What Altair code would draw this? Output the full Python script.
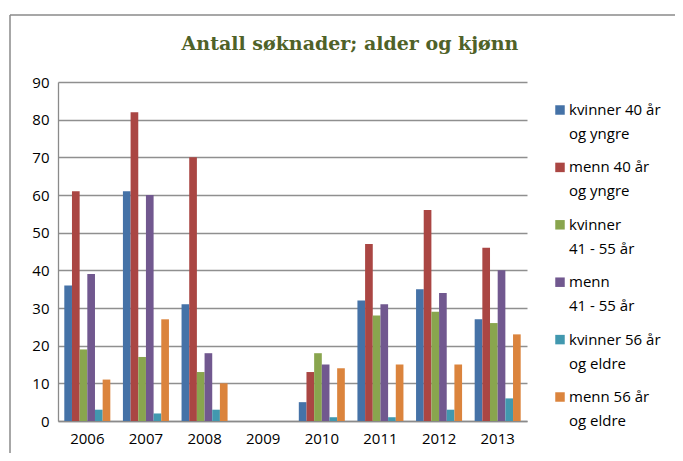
import altair as alt
import pandas as pd

years = ["2006", "2007", "2008", "2009", "2010", "2011", "2012", "2013"]
series = [
    "kvinner 40 år og yngre",
    "menn 40 år og yngre",
    "kvinner 41 - 55 år",
    "menn 41 - 55 år",
    "kvinner 56 år og eldre",
    "menn 56 år og eldre",
]
legend_line1 = ["kvinner 40 år", "menn 40 år", "kvinner", "menn", "kvinner 56 år", "menn 56 år"]
legend_line2 = ["og yngre", "og yngre", "41 - 55 år", "41 - 55 år", "og eldre", "og eldre"]
colors = ["#4572A7", "#AA4643", "#89A54E", "#71588F", "#4198AF", "#DB843D"]

kvinner_40 = [36, 61, 31, 0, 5, 32, 35, 27]
menn_40 = [61, 82, 70, 0, 13, 47, 56, 46]
kvinner_41_55 = [19, 17, 13, 0, 18, 28, 29, 26]
menn_41_55 = [39, 60, 18, 0, 15, 31, 34, 40]
kvinner_56 = [3, 2, 3, 0, 1, 1, 3, 6]
menn_56 = [11, 27, 10, 0, 14, 15, 15, 23]

title_text = "Antall søknader; alder og kjønn"

all_values = [kvinner_40, menn_40, kvinner_41_55, menn_41_55, kvinner_56, menn_56]
rows = []
for s, vals in zip(series, all_values):
    for y, v in zip(years, vals):
        rows.append({"year": y, "series": s, "value": v})
df = pd.DataFrame(rows)

leg_df = pd.DataFrame({"series": series, "line1": legend_line1, "line2": legend_line2})
one = pd.DataFrame({"a": [0]})

FONT = "Open Sans"
color_scale = alt.Scale(domain=series, range=colors)

bars = alt.Chart(df).mark_bar().encode(
    x=alt.X("year:N", sort=years,
            scale=alt.Scale(paddingInner=0.215, paddingOuter=0.1075),
            axis=alt.Axis(title=None, labelAngle=0, grid=False, ticks=False,
                          labelPadding=10, domainColor="#8a8a8a", domainWidth=1.5)),
    xOffset=alt.XOffset("series:N", sort=series, scale=alt.Scale(paddingInner=0, paddingOuter=0)),
    y=alt.Y("value:Q", scale=alt.Scale(domain=[0, 90], nice=False),
            axis=alt.Axis(title=None, values=list(range(0, 91, 10)), ticks=False,
                          labelPadding=9, grid=True, gridColor="#8f8f8f", gridWidth=1.4,
                          domainColor="#8a8a8a", domainWidth=1.3)),
    color=alt.Color("series:N", scale=color_scale, legend=None),
)

leg_y = alt.Y("series:N", sort=series,
              scale=alt.Scale(type="point", range=[28, 315], padding=0), axis=None)

leg_sq = alt.Chart(leg_df).mark_square(size=90, opacity=1).encode(
    x=alt.value(502), y=leg_y,
    color=alt.Color("series:N", scale=color_scale, legend=None),
)
leg_t1 = alt.Chart(leg_df).mark_text(align="left", baseline="middle", font=FONT,
                                     fontSize=15, color="#000000").encode(
    x=alt.value(511), y=leg_y, text="line1:N")
leg_t2 = alt.Chart(leg_df).mark_text(align="left", baseline="middle", font=FONT,
                                     fontSize=15, color="#000000", dy=24).encode(
    x=alt.value(511), y=leg_y, text="line2:N")

frame_v = alt.Chart(one).mark_rule(color="#8a8a8a", strokeWidth=1.5).encode(
    x=alt.value(-48), y=alt.value(-67), y2=alt.value(420))
frame_h = alt.Chart(one).mark_rule(color="#8a8a8a", strokeWidth=1.5).encode(
    x=alt.value(-48), x2=alt.value(700), y=alt.value(-67))

title = alt.Chart(one).mark_text(text=title_text, font="DejaVu Serif", fontSize=19,
                                 fontWeight="bold", color="#4F6228",
                                 align="center", baseline="middle").encode(
    x=alt.value(292), y=alt.value(-38))

chart = alt.layer(frame_v, frame_h, title, bars, leg_sq, leg_t1, leg_t2).resolve_scale(
    y="independent"
).properties(
    width=469, height=339,
    padding={"left": 50, "top": 74, "right": 148, "bottom": 32},
    autosize=alt.AutoSizeParams(type="none"),
).configure_view(stroke=None).configure_axis(
    labelFont=FONT, labelFontSize=15, labelColor="#000000"
)

chart.save("out.html", embed_options={"renderer": "svg", "actions": False})
